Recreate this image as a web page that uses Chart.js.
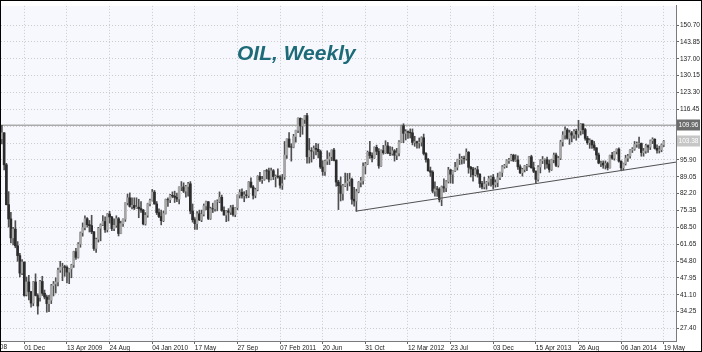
<!DOCTYPE html>
<html>
<head>
<meta charset="utf-8">
<script src="https://cdn.jsdelivr.net/npm/chart.js@4.4.1/dist/chart.umd.min.js"></script>
<style>
  html, body { margin: 0; padding: 0; background: #fff; }
  #frame { width: 700px; height: 350px; border: 1px solid #000; }
  canvas { display: block; }
</style>
</head>
<body>
<div id="frame"><canvas id="chart" width="700" height="350"></canvas></div>
<script>
// Weekly OIL bars, week 0 = 22 Sep 2008, last week (295) = 19 May 2014
const opens = [
  104.5, 106.9, 93.9, 77.7, 71.9, 64.2, 67.8, 61.0, 57.0, 49.9,
  54.4, 41.2, 46.3, 42.4, 37.7, 46.3, 40.8, 40.0, 46.5, 41.7,
  40.2, 37.5, 38.9, 44.8, 45.5, 46.3, 51.1, 52.4, 52.5, 52.2,
  50.3, 51.6, 53.2, 58.6, 56.3, 61.7, 66.3, 68.4, 72.0, 69.6,
  69.2, 66.7, 59.9, 63.6, 68.1, 69.5, 70.9, 67.5, 73.9, 72.7,
  68.0, 69.3, 72.0, 66.0, 70.0, 71.8, 78.5, 80.5, 77.0, 77.4,
  76.4, 76.7, 76.1, 75.5, 69.9, 73.4, 78.1, 79.4, 82.8, 78.0,
  74.5, 72.9, 71.2, 74.1, 79.8, 79.7, 81.5, 81.2, 80.7, 80.0,
  84.9, 84.9, 83.2, 85.1, 86.2, 75.1, 71.6, 70.0, 74.0, 71.5,
  73.8, 77.2, 78.9, 72.1, 76.1, 76.0, 79.0, 79.0, 80.7, 75.4,
  73.5, 75.2, 74.6, 76.5, 73.7, 76.5, 81.6, 82.7, 81.3, 81.7,
  81.4, 86.9, 84.9, 81.5, 83.8, 89.2, 87.8, 88.0, 91.5, 91.4,
  88.0, 91.5, 89.1, 89.3, 89.0, 85.6, 89.0, 97.9, 104.4, 101.2,
  101.1, 105.4, 107.9, 112.8, 109.7, 112.3, 113.9, 97.2, 99.7, 99.5,
  100.6, 100.2, 99.3, 93.0, 91.2, 95.4, 96.2, 97.2, 99.9, 95.7,
  86.9, 85.4, 82.3, 85.4, 86.5, 87.2, 88.0, 79.9, 79.2, 83.0,
  86.8, 87.4, 93.3, 94.3, 99.0, 97.7, 96.8, 101.0, 99.4, 93.5,
  99.7, 98.8, 101.6, 98.7, 98.5, 99.6, 97.8, 98.7, 103.2, 109.8,
  106.7, 107.4, 107.1, 106.9, 103.0, 103.3, 102.8, 103.1, 104.9, 98.5,
  96.1, 91.5, 90.9, 83.2, 84.1, 84.0, 79.8, 85.0, 84.5, 87.1,
  91.8, 90.1, 91.4, 92.9, 96.0, 96.2, 96.5, 96.4, 99.0, 92.9,
  92.2, 89.9, 91.9, 90.1, 86.3, 84.9, 86.1, 86.9, 88.3, 88.9,
  85.9, 86.7, 88.7, 90.8, 93.1, 93.6, 95.6, 95.9, 97.8, 95.7,
  95.9, 93.1, 90.7, 92.0, 93.5, 93.7, 97.2, 92.7, 91.3, 88.0,
  93.0, 95.6, 96.0, 96.0, 94.2, 92.0, 96.0, 97.9, 93.7, 96.6,
  103.2, 106.0, 108.1, 104.7, 106.9, 106.0, 107.5, 106.4, 107.7, 110.5,
  108.2, 104.7, 102.9, 103.8, 102.0, 100.8, 97.9, 94.6, 94.6, 93.8,
  94.4, 92.7, 97.7, 96.6, 99.3, 100.3, 95.4, 92.7, 94.4, 96.6,
  97.5, 99.9, 100.3, 102.2, 102.6, 102.6, 98.9, 99.5, 101.7, 101.1,
  103.7, 104.3, 100.6, 99.8, 100.0, 102.0
];
const highs = [
  110.0, 107.0, 94.5, 83.0, 74.6, 68.5, 71.2, 62.7, 57.9, 55.4,
  54.4, 48.3, 49.0, 42.5, 46.5, 49.6, 41.5, 47.0, 48.6, 43.0,
  40.9, 40.9, 45.3, 46.5, 48.0, 51.9, 54.7, 53.9, 53.1, 52.8,
  51.8, 53.5, 58.8, 60.0, 62.3, 66.6, 70.3, 73.2, 72.5, 71.3,
  73.4, 66.8, 64.1, 68.5, 69.9, 73.3, 72.8, 74.1, 75.0, 73.0,
  72.0, 73.2, 72.5, 71.0, 72.0, 78.5, 82.0, 82.5, 80.5, 80.5,
  80.5, 79.9, 79.0, 75.8, 74.5, 78.3, 80.0, 83.9, 83.5, 79.0,
  76.0, 75.5, 75.1, 80.0, 80.5, 81.9, 82.9, 83.2, 82.4, 85.0,
  87.1, 86.6, 85.6, 86.8, 87.1, 78.0, 72.5, 74.9, 75.5, 75.5,
  78.0, 79.2, 79.0, 76.7, 78.3, 79.3, 79.7, 82.9, 81.6, 76.8,
  75.4, 76.1, 77.4, 77.5, 76.6, 81.7, 83.8, 84.1, 83.0, 83.5,
  87.1, 88.6, 85.5, 84.4, 89.5, 90.8, 89.2, 91.6, 92.1, 92.6,
  92.6, 92.0, 89.8, 92.3, 89.5, 90.0, 103.4, 104.5, 107.0, 102.5,
  106.3, 108.0, 113.0, 113.0, 112.6, 114.0, 114.8, 104.6, 100.9, 101.6,
  102.6, 102.4, 99.9, 95.6, 95.8, 99.6, 98.8, 100.0, 100.6, 96.0,
  87.6, 89.0, 86.0, 90.5, 90.4, 90.5, 88.5, 84.8, 84.0, 87.1,
  88.8, 94.7, 94.9, 99.5, 103.4, 98.8, 101.2, 101.9, 100.5, 100.0,
  101.8, 103.7, 103.0, 101.3, 101.1, 100.1, 100.6, 103.8, 110.0, 110.6,
  108.2, 107.7, 108.5, 108.5, 105.5, 103.6, 104.8, 105.3, 106.4, 98.9,
  96.5, 93.0, 91.5, 87.0, 85.2, 84.6, 85.3, 88.2, 87.5, 92.9,
  92.1, 91.6, 94.9, 96.2, 98.3, 97.3, 97.5, 100.4, 99.3, 93.3,
  92.9, 92.6, 93.3, 90.3, 87.2, 88.9, 87.2, 89.3, 89.4, 90.0,
  87.8, 90.5, 91.0, 93.6, 94.1, 96.0, 96.5, 98.2, 98.2, 98.0,
  97.6, 93.9, 92.5, 93.7, 94.1, 97.4, 97.8, 95.0, 91.5, 93.6,
  96.0, 97.3, 96.3, 97.0, 95.9, 96.2, 98.7, 98.7, 97.3, 103.9,
  107.4, 109.3, 108.7, 108.0, 107.5, 108.2, 108.4, 112.0, 110.7, 110.6,
  108.7, 105.5, 104.5, 104.0, 103.4, 100.9, 98.7, 95.4, 95.5, 95.5,
  95.0, 97.9, 99.0, 99.4, 100.4, 100.8, 95.5, 94.6, 97.8, 98.2,
  100.1, 100.9, 103.4, 103.2, 105.2, 102.8, 100.6, 102.3, 102.0, 104.0,
  104.9, 104.5, 102.0, 101.5, 102.4, 103.8
];
const lows = [
  102.4, 91.8, 77.6, 68.6, 62.2, 61.3, 60.2, 54.7, 48.3, 49.3,
  40.5, 40.6, 39.0, 36.0, 36.6, 40.6, 33.2, 38.5, 40.8, 39.4,
  34.0, 34.2, 37.5, 40.6, 41.8, 44.7, 50.2, 46.8, 48.6, 45.9,
  45.6, 48.0, 52.2, 55.5, 56.0, 60.4, 64.9, 67.4, 68.6, 66.6,
  65.9, 59.1, 58.3, 62.5, 63.0, 69.2, 66.4, 66.6, 70.2, 67.1,
  67.1, 68.5, 65.0, 65.9, 68.9, 70.9, 77.6, 76.7, 76.0, 75.7,
  76.2, 72.4, 74.6, 69.5, 69.4, 72.6, 77.2, 79.2, 77.9, 73.7,
  72.4, 69.5, 70.8, 73.9, 77.0, 78.5, 80.5, 78.6, 78.9, 78.0,
  83.4, 82.6, 80.8, 81.2, 74.0, 70.6, 67.6, 67.6, 71.2, 70.8,
  73.1, 75.6, 71.6, 71.7, 74.5, 75.1, 75.2, 78.5, 75.0, 73.4,
  70.8, 71.1, 73.7, 73.0, 72.8, 75.7, 80.4, 80.3, 78.9, 80.4,
  80.6, 84.5, 80.0, 80.5, 83.3, 87.2, 86.3, 87.6, 88.2, 87.0,
  87.8, 87.9, 84.9, 88.5, 84.4, 83.9, 88.0, 96.5, 101.0, 95.4,
  100.8, 103.1, 107.0, 105.3, 106.3, 110.7, 94.6, 94.6, 95.0, 96.4,
  97.9, 96.7, 92.4, 89.6, 89.6, 94.0, 94.0, 95.6, 95.5, 85.2,
  75.7, 79.2, 79.5, 85.0, 83.5, 85.3, 77.9, 77.1, 75.0, 82.6,
  84.9, 86.0, 90.2, 94.0, 96.5, 95.1, 96.5, 98.0, 92.5, 93.3,
  98.2, 98.5, 98.4, 97.6, 97.8, 95.4, 96.0, 97.5, 103.0, 102.9,
  104.0, 104.6, 104.8, 102.0, 101.4, 100.7, 100.7, 101.5, 97.9, 95.0,
  91.3, 89.2, 82.5, 81.2, 81.1, 78.8, 77.3, 82.8, 83.0, 86.5,
  86.5, 86.3, 91.1, 91.8, 94.0, 94.2, 94.5, 95.8, 90.5, 89.0,
  87.3, 89.4, 88.9, 84.7, 84.1, 84.1, 84.0, 85.5, 85.2, 84.1,
  84.8, 85.0, 87.9, 89.1, 92.5, 92.8, 94.5, 95.5, 95.2, 95.3,
  92.0, 90.3, 89.3, 91.0, 91.5, 93.0, 92.5, 90.7, 86.3, 87.3,
  90.6, 94.4, 92.1, 92.5, 90.9, 91.6, 94.7, 93.2, 93.0, 96.0,
  101.5, 104.3, 104.3, 102.2, 103.2, 104.6, 103.9, 105.0, 106.0, 106.5,
  103.9, 102.2, 100.6, 100.6, 99.8, 96.1, 94.3, 93.2, 92.5, 92.2,
  91.8, 92.5, 96.1, 95.8, 98.3, 95.0, 91.8, 91.8, 93.8, 95.3,
  96.6, 98.9, 99.8, 101.0, 100.6, 97.4, 97.4, 98.6, 98.9, 100.1,
  102.5, 100.3, 98.6, 98.7, 99.2, 101.3
];
const closes = [
  106.9, 93.9, 77.7, 71.9, 64.2, 67.8, 61.0, 57.0, 49.9, 54.4,
  40.8, 46.3, 42.4, 37.7, 46.3, 40.8, 36.5, 46.5, 41.7, 40.2,
  37.5, 38.9, 44.8, 45.5, 46.3, 51.1, 52.4, 52.5, 52.2, 50.3,
  51.6, 53.2, 58.6, 56.3, 61.7, 66.3, 68.4, 72.0, 69.6, 69.2,
  66.7, 59.9, 63.6, 68.1, 69.5, 70.9, 67.5, 73.9, 72.7, 68.0,
  69.3, 72.0, 66.0, 70.0, 71.8, 78.5, 80.5, 77.0, 77.4, 76.4,
  76.7, 76.1, 75.5, 69.9, 73.4, 78.1, 79.4, 82.8, 78.0, 74.5,
  72.9, 71.2, 74.1, 79.8, 79.7, 81.5, 81.2, 80.7, 80.0, 84.9,
  84.9, 83.2, 85.1, 86.2, 75.1, 71.6, 70.0, 74.0, 71.5, 73.8,
  77.2, 78.9, 72.1, 76.1, 76.0, 79.0, 79.0, 80.7, 75.4, 73.5,
  75.2, 74.6, 76.5, 73.7, 76.5, 81.6, 82.7, 81.3, 81.7, 81.4,
  86.9, 84.9, 81.5, 83.8, 89.2, 87.8, 88.0, 91.5, 91.4, 88.0,
  91.5, 89.1, 89.3, 89.0, 85.6, 86.2, 97.9, 104.4, 101.2, 101.1,
  105.4, 107.9, 112.8, 109.7, 112.3, 113.9, 97.2, 99.7, 99.5, 100.6,
  100.2, 99.3, 93.0, 91.2, 95.4, 96.2, 97.2, 99.9, 95.7, 86.9,
  85.4, 82.3, 85.4, 86.5, 87.2, 88.0, 79.9, 79.2, 83.0, 86.8,
  87.4, 93.3, 94.3, 99.0, 97.7, 96.8, 101.0, 99.4, 93.5, 99.7,
  98.8, 101.6, 98.7, 98.5, 99.6, 97.8, 98.7, 103.2, 109.8, 106.7,
  107.4, 107.1, 106.9, 103.0, 103.3, 102.8, 103.1, 104.9, 98.5, 96.1,
  91.5, 90.9, 83.2, 84.1, 84.0, 79.8, 85.0, 84.5, 87.1, 91.8,
  90.1, 91.4, 92.9, 96.0, 96.2, 96.5, 96.4, 99.0, 92.9, 92.2,
  89.9, 91.9, 90.1, 86.3, 84.9, 86.1, 86.9, 88.3, 88.9, 85.9,
  86.7, 88.7, 90.8, 93.1, 93.6, 95.6, 95.9, 97.8, 95.7, 95.9,
  93.1, 90.7, 92.0, 93.5, 93.7, 97.2, 92.7, 91.3, 88.0, 93.0,
  95.6, 96.0, 96.0, 94.2, 92.0, 96.0, 97.9, 93.7, 96.6, 103.2,
  106.0, 108.1, 104.7, 106.9, 106.0, 107.5, 106.4, 107.7, 110.5, 108.2,
  104.7, 102.9, 103.8, 102.0, 100.8, 97.9, 94.6, 94.6, 93.8, 94.4,
  92.7, 97.7, 96.6, 99.3, 100.3, 95.4, 92.7, 94.4, 96.6, 97.5,
  99.9, 100.3, 102.2, 102.6, 102.6, 98.9, 99.5, 101.7, 101.1, 103.7,
  104.3, 100.6, 99.8, 100.0, 102.0, 103.4
];

// Eixo de datas: rótulo a cada 19 semanas
const tickWeeks = [10, 29, 48, 67, 86, 105, 124, 143, 162, 181, 200, 219, 238, 257, 276, 295];
const tickLabels = ["01 Dec", "13 Apr 2009", "24 Aug", "04 Jan 2010", "17 May", "27 Sep",
  "07 Feb 2011", "20 Jun", "31 Oct", "12 Mar 2012", "23 Jul", "03 Dec",
  "15 Apr 2013", "26 Aug", "06 Jan 2014", "19 May"];
const firstDateLabel = "28 Jul 2008";

// Eixo de preços
const priceTicks = [27.40, 34.25, 41.10, 47.95, 54.80, 61.65, 68.50, 75.35, 82.20, 89.05,
  95.90, 102.75, 109.60, 116.45, 123.30, 130.15, 137.00, 143.85, 150.70];
const hiddenTicks = [102.75, 109.60];

// Linhas desenhadas
const resistance = 109.96;
const lastPrice = 103.38;
const trendWeeks = [158, 300.46];
const trendPrices = [75.1, 95.0];

const X_MIN = -0.4, X_MAX = 300.46;
const Y_MIN = 22.3, Y_MAX = 158.49;
const FONT = '"Liberation Sans", Arial, sans-serif';

const weeks = opens.map((_, i) => i);
const bodyColors = weeks.map((i) => (closes[i] >= opens[i] ? "#a6a6a6" : "#2c2c2c"));

function priceBox(ctx, x, y, text, bg) {
  ctx.fillStyle = bg;
  ctx.fillRect(x, Math.round(y) - 5.5, 23, 11);
  ctx.fillStyle = "#ffffff";
  ctx.font = "6.5px " + FONT;
  ctx.textAlign = "center";
  ctx.textBaseline = "middle";
  ctx.fillText(text, x + 11.5, Math.round(y) + 0.5);
}

const extras = {
  id: "extras",
  beforeDraw(chart) {
    const { ctx, chartArea: a } = chart;
    ctx.save();
    ctx.fillStyle = "#ffffff";
    ctx.fillRect(0, 0, chart.width, chart.height);
    ctx.fillStyle = "#f7f8fd";
    ctx.fillRect(a.left, a.top, a.right - a.left, a.bottom - a.top);
    ctx.restore();
  },
  afterDraw(chart) {
    const { ctx, chartArea: a, scales } = chart;
    ctx.save();
    // título
    ctx.font = "italic bold 21px " + FONT;
    ctx.fillStyle = "#1d6a78";
    ctx.textAlign = "left";
    ctx.textBaseline = "alphabetic";
    ctx.fillText("OIL, Weekly", 236, 59);
    // caixas de preço no eixo
    priceBox(ctx, a.right + 1, scales.y.getPixelForValue(resistance), resistance.toFixed(2), "#6c6c6c");
    priceBox(ctx, a.right + 1, scales.y.getPixelForValue(lastPrice), lastPrice.toFixed(2), "#c6c6c6");
    // primeiro rótulo de data, cortado pela borda
    ctx.font = "6.5px " + FONT;
    ctx.fillStyle = "#222";
    ctx.textAlign = "right";
    ctx.textBaseline = "middle";
    ctx.fillText(firstDateLabel, 6, a.bottom + 6.5);
    ctx.restore();
  }
};

new Chart(document.getElementById("chart"), {
  type: "bar",
  data: {
    datasets: [
      {
        type: "line",
        data: trendWeeks.map((w, i) => ({ x: w, y: trendPrices[i] })),
        borderColor: "#505050",
        borderWidth: 1,
        pointRadius: 0,
        order: 0,
      },
      {
        label: "body",
        data: weeks.map((i) => ({ x: i, y: [opens[i], closes[i]] })),
        backgroundColor: bodyColors,
        barThickness: 2,
        grouped: false,
        order: 1,
      },
      {
        label: "range",
        data: weeks.map((i) => ({ x: i, y: [lows[i], highs[i]] })),
        backgroundColor: "#505050",
        barThickness: 1,
        grouped: false,
        order: 2,
      },
      {
        type: "line",
        data: [{ x: X_MIN, y: resistance }, { x: X_MAX, y: resistance }],
        borderColor: "#ababab",
        borderWidth: 1.5,
        pointRadius: 0,
        order: 3,
      },
    ],
  },
  options: {
    responsive: false,
    animation: false,
    devicePixelRatio: 1,
    layout: { padding: { top: 1, left: 0, right: 0, bottom: 0 } },
    plugins: { legend: { display: false }, tooltip: { enabled: false } },
    scales: {
      x: {
        type: "linear",
        min: X_MIN,
        max: X_MAX,
        offset: false,
        afterBuildTicks: (scale) => { scale.ticks = tickWeeks.map((v) => ({ value: v })); },
        afterFit: (scale) => { scale.height = 10; },
        grid: { offset: false, color: "#cccccc", tickColor: "#666", tickLength: 3, tickBorderDash: [] },
        border: { display: true, color: "#7a7a7a", dash: [1, 2] },
        ticks: {
          autoSkip: false,
          maxRotation: 0,
          align: "start",
          padding: 0,
          color: "#222",
          font: { family: FONT, size: 6.5 },
          callback: (v) => tickLabels[tickWeeks.indexOf(v)] || "",
        },
      },
      y: {
        position: "right",
        min: Y_MIN,
        max: Y_MAX,
        beginAtZero: false,
        afterBuildTicks: (scale) => { scale.ticks = priceTicks.map((v) => ({ value: v })); },
        afterFit: (scale) => { scale.width = 25; },
        grid: { color: "#cccccc", tickColor: "#666", tickLength: 3, tickBorderDash: [] },
        border: { display: true, color: "#7a7a7a", dash: [1, 2] },
        ticks: {
          padding: 1,
          color: "#222",
          font: { family: FONT, size: 6.5 },
          callback: (v) => (hiddenTicks.includes(v) ? "" : v.toFixed(2)),
        },
      },
    },
  },
  plugins: [extras],
});
</script>
</body>
</html>
